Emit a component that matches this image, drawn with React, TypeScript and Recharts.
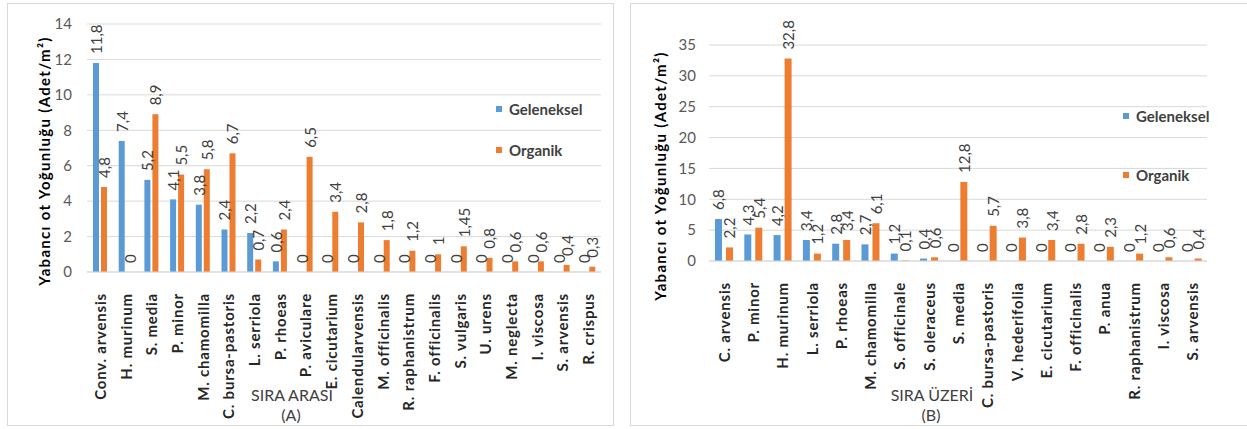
import { BarChart, Bar, XAxis, YAxis, CartesianGrid, LabelList, Rectangle } from "recharts";

// Sıra arası (A)
const araCategories = [
    "Conv. arvensis", "H. murinum", "S. media", "P. minor", "M. chamomilla",
    "C. bursa-pastoris", "L. serriola", "P. rhoeas", "P. aviculare", "E. cicutarium",
    "Calendularvensis", "M. officinalis", "R. raphanistrum", "F. officinalis", "S. vulgaris",
    "U. urens", "M. neglecta", "I. viscosa", "S. arvensis", "R. crispus",
];
const araGeleneksel = [11.8, 7.4, 5.2, 4.1, 3.8, 2.4, 2.2, 0.6, 0, 0, 0, 0, 0, 0, 0, 0, 0, 0, 0, 0];
const araOrganik = [4.8, 0, 8.9, 5.5, 5.8, 6.7, 0.7, 2.4, 6.5, 3.4, 2.8, 1.8, 1.2, 1, 1.45, 0.8, 0.6, 0.6, 0.4, 0.3];
const araTicks = [0, 2, 4, 6, 8, 10, 12, 14];

// Sıra üzeri (B)
const uzeriCategories = [
    "C. arvensis", "P. minor", "H. murinum", "L. serriola", "P. rhoeas", "M. chamomilla",
    "S. officinale", "S. oleraceus", "S. media", "C. bursa-pastoris", "V. hederifolia",
    "E. cicutarium", "F. officinalis", "P. anua", "R. raphanistrum", "I. viscosa", "S. arvensis",
];
const uzeriGeleneksel = [6.8, 4.3, 4.2, 3.4, 2.8, 2.7, 1.2, 0.4, 0, 0, 0, 0, 0, 0, 0, 0, 0];
const uzeriOrganik = [2.2, 5.4, 32.8, 1.2, 3.4, 6.1, 0.1, 0.6, 12.8, 5.7, 3.8, 3.4, 2.8, 2.3, 1.2, 0.6, 0.4];
const uzeriTicks = [0, 5, 10, 15, 20, 25, 30, 35];

const BLUE = "#5B9BD5";
const ORANGE = "#ED7D31";
const GRID = "#d9d9d9";
const FONT = "Lato, 'Open Sans', sans-serif";

const buildRows = (cats: string[], gel: number[], org: number[]) =>
    cats.map((name, i) => ({ name, geleneksel: gel[i], organik: org[i] }));

const fmt = (v: number) => String(v).replace(".", ",");

// zero bars keep a hairline height so their "0" label is still placed; draw nothing for them
const BarShape = (props: any) => (props.value > 0 ? <Rectangle {...props} /> : <g />);

const ValueLabel = (props: any) => {
    const { x, y, width, value } = props;
    const cx = x + width / 2;
    const ty = y - 9;
    return (
        <text
            x={cx}
            y={ty}
            transform={`rotate(-90, ${cx}, ${ty})`}
            textAnchor="start"
            dominantBaseline="central"
            fontSize={15}
            fontFamily={FONT}
            fill="#404040"
        >
            {fmt(value)}
        </text>
    );
};

const CategoryTick = (props: any) => {
    const { x, y, payload } = props;
    const ty = y + 13;
    return (
        <text
            x={x}
            y={ty}
            transform={`rotate(-90, ${x}, ${ty})`}
            textAnchor="end"
            dominantBaseline="central"
            fontSize={15}
            letterSpacing={0.8}
            fontWeight="bold"
            fontFamily={FONT}
            fill="#262626"
        >
            {payload.value}
        </text>
    );
};

const LegendBox = ({ top, left, gap }: { top: number; left: number; gap: number }) => (
    <div style={{ position: "absolute", top, left, fontFamily: FONT, fontWeight: "bold", fontSize: 15, color: "#404040" }}>
        {[
            { name: "Geleneksel", color: BLUE },
            { name: "Organik", color: ORANGE },
        ].map((item, i) => (
            <div key={item.name} style={{ display: "flex", alignItems: "center", height: 18, marginTop: i === 0 ? 0 : gap }}>
                <span style={{ width: 6, height: 6, background: item.color, marginRight: 7, display: "inline-block" }} />
                {item.name}
            </div>
        ))}
    </div>
);

interface PanelProps {
    rows: { name: string; geleneksel: number; organik: number }[];
    ticks: number[];
    width: number;
    margin: { top: number; right: number; bottom: number; left: number };
    barSize: number;
    barGap: number;
    tickMargin: number;
}

const Panel = ({ rows, ticks, width, margin, barSize, barGap, tickMargin }: PanelProps) => (
    <BarChart width={width} height={429} data={rows} margin={margin} barSize={barSize} barGap={barGap}>
        <CartesianGrid vertical={false} stroke={GRID} />
        <XAxis
            dataKey="name"
            interval={0}
            height={150}
            tickLine={false}
            axisLine={{ stroke: GRID }}
            tick={<CategoryTick />}
        />
        <YAxis
            width={30}
            domain={[ticks[0], ticks[ticks.length - 1]]}
            ticks={ticks}
            axisLine={false}
            tickLine={false}
            tickMargin={tickMargin}
            tick={{ fill: "#595959", fontSize: 15, fontFamily: FONT }}
        />
        <Bar dataKey="geleneksel" name="Geleneksel" fill={BLUE} minPointSize={0.001} shape={<BarShape />} isAnimationActive={false}>
            <LabelList dataKey="geleneksel" content={<ValueLabel />} />
        </Bar>
        <Bar dataKey="organik" name="Organik" fill={ORANGE} minPointSize={0.001} shape={<BarShape />} isAnimationActive={false}>
            <LabelList dataKey="organik" content={<ValueLabel />} />
        </Bar>
    </BarChart>
);

const YTitle = ({ yx, yy }: { yx: number; yy: number }) => (
    <svg width={627} height={429} style={{ position: "absolute", left: 0, top: 0, pointerEvents: "none" }}>
        <text
            x={yx}
            y={yy}
            transform={`rotate(-90, ${yx}, ${yy})`}
            textAnchor="middle"
            dominantBaseline="central"
            fontSize={15}
            letterSpacing={1.3}
            fontWeight="bold"
            fontFamily={FONT}
            fill="#000"
        >
            Yabancı ot Yoğunluğu  (Adet/m²)
        </text>
    </svg>
);

export default function App() {
    const araRows = buildRows(araCategories, araGeleneksel, araOrganik);
    const uzeriRows = buildRows(uzeriCategories, uzeriGeleneksel, uzeriOrganik);

    const panelStyle = {
        position: "absolute" as const,
        top: 3,
        height: 423,
        border: "1px solid #d9d9d9",
        boxSizing: "border-box" as const,
    };
    const subTitle = {
        position: "absolute" as const,
        fontFamily: FONT,
        fontSize: 16,
        color: "#404040",
        transform: "translateX(-50%)",
        whiteSpace: "nowrap" as const,
        lineHeight: "18px",
    };

    return (
        <div style={{ position: "relative", width: 1247, height: 429, background: "#fff", overflow: "hidden" }}>
            <style>{`body{margin:0}`}</style>
            <div style={{ ...panelStyle, left: 7, width: 607 }} />
            <div style={{ ...panelStyle, left: 630, width: 630 }} />

            <div style={{ position: "absolute", left: 0, top: 0 }}>
                <Panel
                    rows={araRows}
                    ticks={araTicks}
                    width={620}
                    margin={{ top: 24, right: 19, bottom: 7, left: 57 }}
                    barSize={6}
                    barGap={2}
                    tickMargin={9}
                />
                <YTitle yx={44} yy={161} />
                <LegendBox top={100} left={496} gap={23} />
                <div style={{ ...subTitle, left: 292, top: 386 }}>SIRA ARASI</div>
                <div style={{ ...subTitle, left: 291, top: 406 }}>(A)</div>
            </div>

            <div style={{ position: "absolute", left: 620, top: 0 }}>
                <Panel
                    rows={uzeriRows}
                    ticks={uzeriTicks}
                    width={627}
                    margin={{ top: 45, right: 40, bottom: 18, left: 59 }}
                    barSize={7}
                    barGap={4}
                    tickMargin={7}
                />
                <YTitle yx={40} yy={176} />
                <LegendBox top={107} left={503} gap={41} />
                <div style={{ ...subTitle, left: 312, top: 386 }}>SIRA ÜZERİ</div>
                <div style={{ ...subTitle, left: 311, top: 406 }}>(B)</div>
            </div>
        </div>
    );
}
